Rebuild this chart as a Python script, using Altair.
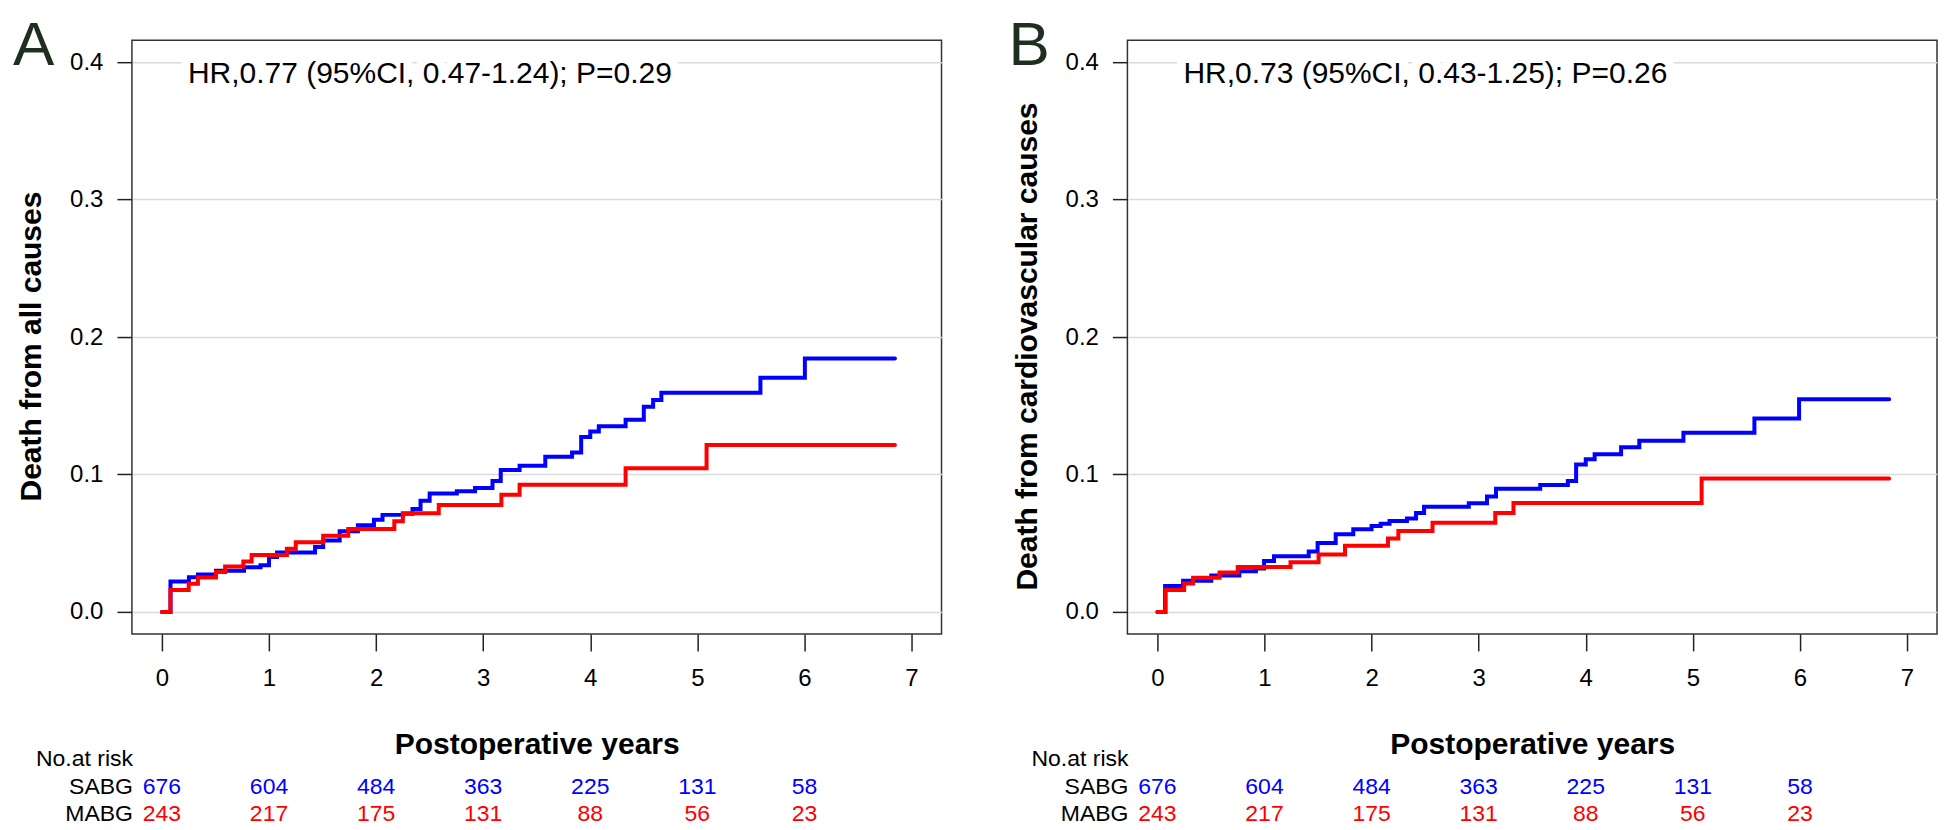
import altair as alt
import pandas as pd

# ---- data ----
# Panel A: death from all causes (cumulative incidence, step functions)
A_blue_t = [0, 0.08, 0.252, 0.336, 0.505, 0.767, 0.921, 1.0, 1.075, 1.43, 1.506, 1.66, 1.83, 1.98, 2.06,
            2.25, 2.34, 2.415, 2.50, 2.754, 2.924, 3.087, 3.164, 3.34, 3.58, 3.83, 3.915, 4.0, 4.08, 4.33,
            4.5, 4.587, 4.664, 5.589, 6.004, 6.845]
A_blue_v = [0, 0.0222, 0.0253, 0.0272, 0.0300, 0.0325, 0.0340, 0.0400, 0.0432, 0.0472, 0.0520, 0.0587, 0.0630,
            0.0670, 0.0706, 0.0715, 0.0749, 0.0809, 0.0861, 0.0878, 0.0902, 0.0952, 0.1033, 0.1064, 0.1129,
            0.1160, 0.1273, 0.1312, 0.1350, 0.1398, 0.1492, 0.1541, 0.1594, 0.1704, 0.1844, 0.1844]
A_red_t = [0, 0.08, 0.25, 0.336, 0.505, 0.59, 0.76, 0.838, 1.167, 1.25, 1.506, 1.74, 2.17, 2.25, 2.585,
           3.17, 3.34, 4.33, 5.086, 6.845]
A_red_v = [0, 0.0160, 0.0205, 0.0250, 0.0290, 0.0330, 0.0367, 0.0414, 0.0460, 0.0506, 0.0554, 0.0604,
           0.0659, 0.0718, 0.0778, 0.0852, 0.0926, 0.1045, 0.1215, 0.1215]

# Panel B: death from cardiovascular causes
B_blue_t = [0, 0.072, 0.24, 0.503, 0.765, 0.92, 0.996, 1.089, 1.413, 1.496, 1.665, 1.829, 2.0, 2.085, 2.168,
            2.33, 2.415, 2.49, 2.908, 3.078, 3.162, 3.575, 3.833, 3.91, 4.0, 4.083, 4.33, 4.5, 4.912, 5.575,
            5.992, 6.833]
B_blue_v = [0, 0.0188, 0.0226, 0.0265, 0.0296, 0.0315, 0.0370, 0.0405, 0.0439, 0.0501, 0.0565, 0.0601,
            0.0625, 0.0641, 0.0661, 0.0680, 0.0720, 0.0766, 0.0790, 0.0840, 0.0897, 0.0923, 0.0953, 0.1072,
            0.1110, 0.1148, 0.1198, 0.1245, 0.1303, 0.1407, 0.1548, 0.1548]
B_red_t = [0, 0.077, 0.25, 0.333, 0.58, 0.75, 1.243, 1.505, 1.752, 2.153, 2.25, 2.569, 3.155, 3.325, 5.082, 6.833]
B_red_v = [0, 0.016, 0.0207, 0.0248, 0.0286, 0.0327, 0.0362, 0.0417, 0.0482, 0.0534, 0.0589, 0.0649,
           0.0720, 0.0792, 0.0971, 0.0971]

# Number at risk table
risk_times = [0, 1, 2, 3, 4, 5, 6]
risk_sabg = [676, 604, 484, 363, 225, 131, 58]
risk_mabg = [243, 217, 175, 131, 88, 56, 23]

x_ticks = [0, 1, 2, 3, 4, 5, 6, 7]
y_ticks = [0.0, 0.1, 0.2, 0.3, 0.4]

panel_letters = ["A", "B"]
y_titles = ["Death from all causes", "Death from cardiovascular causes"]
hr_texts = ["HR,0.77 (95%CI, 0.47-1.24); P=0.29", "HR,0.73 (95%CI, 0.43-1.25); P=0.26"]
x_title = "Postoperative years"
group_names = ["SABG", "MABG"]

# ---- styling ----
W, H = 810, 594
XDOM = [-0.28, 7.28]
YDOM = [-0.016, 0.416]
FONT = "Liberation Sans"
BLUE = "#0000FF"
RED = "#FF0000"


def panel(letter, ytitle, hr, bt, bv, rt, rv):
    xs = alt.Scale(domain=XDOM, nice=False, zero=False)
    ys = alt.Scale(domain=YDOM, nice=False, zero=False)
    xaxis = alt.Axis(values=x_ticks, format="d", tickSize=17, tickWidth=1.5, tickColor="#222",
                     labelFontSize=24, labelColor="#000", labelPadding=16, domain=False, grid=False,
                     title=x_title, titleFontSize=30, titleFontWeight="bold", titleColor="#000",
                     titleY=111, titleBaseline="middle")
    yaxis = alt.Axis(values=y_ticks, format=".1f", tickSize=15, tickWidth=1.5, tickColor="#222",
                     labelFontSize=24, labelColor="#000", labelPadding=14, domain=False, grid=True,
                     gridColor="#dadada", gridWidth=1.5,
                     title=ytitle, titleFontSize=30, titleFontWeight="bold", titleColor="#000",
                     titleX=-100, titleY=H / 2 + 9, titleBaseline="middle", titleAlign="center",
                     titleAngle=270)

    blue_df = pd.DataFrame({"t": bt, "v": bv})
    red_df = pd.DataFrame({"t": rt, "v": rv})

    blue = alt.Chart(blue_df).mark_line(interpolate="step-after", color=BLUE, strokeWidth=4,
                                        strokeCap="round").encode(
        x=alt.X("t:Q", scale=xs, axis=xaxis),
        y=alt.Y("v:Q", scale=ys, axis=yaxis),
    )
    red = alt.Chart(red_df).mark_line(interpolate="step-after", color=RED, strokeWidth=4,
                                      strokeCap="round").encode(
        x=alt.X("t:Q", scale=xs, axis=xaxis),
        y=alt.Y("v:Q", scale=ys, axis=yaxis),
    )

    hr_df = pd.DataFrame({"s": [hr]})
    halo = alt.Chart(hr_df).mark_text(align="left", baseline="alphabetic", fontSize=30, fill="white",
                                      stroke="white", strokeWidth=18, strokeJoin="round").encode(
        x=alt.value(56), y=alt.value(43), text="s:N")
    hrt = alt.Chart(hr_df).mark_text(align="left", baseline="alphabetic", fontSize=30, color="#000").encode(
        x=alt.value(56), y=alt.value(43), text="s:N")

    let_df = pd.DataFrame({"s": [letter]})
    let = alt.Chart(let_df).mark_text(align="left", baseline="top", fontSize=62, color="#1e2f20").encode(
        x=alt.value(-119), y=alt.value(-24), text="s:N")

    risk_df = pd.DataFrame({"t": risk_times, "sabg": risk_sabg, "mabg": risk_mabg})
    r1 = alt.Chart(risk_df).mark_text(align="center", baseline="middle", fontSize=23, color=BLUE).encode(
        x=alt.X("t:Q", scale=xs, axis=xaxis), y=alt.value(H + 153), text=alt.Text("sabg:Q", format="d"))
    r2 = alt.Chart(risk_df).mark_text(align="center", baseline="middle", fontSize=23, color=RED).encode(
        x=alt.X("t:Q", scale=xs, axis=xaxis), y=alt.value(H + 180), text=alt.Text("mabg:Q", format="d"))

    head_df = pd.DataFrame({"s": ["No.at risk"]})
    head = alt.Chart(head_df).mark_text(align="left", baseline="middle", fontSize=23, color="#000").encode(
        x=alt.value(-96), y=alt.value(H + 125), text="s:N")
    g1 = alt.Chart(pd.DataFrame({"s": [group_names[0]]})).mark_text(
        align="right", baseline="middle", fontSize=23, color="#000").encode(
        x=alt.value(1), y=alt.value(H + 153), text="s:N")
    g2 = alt.Chart(pd.DataFrame({"s": [group_names[1]]})).mark_text(
        align="right", baseline="middle", fontSize=23, color="#000").encode(
        x=alt.value(1), y=alt.value(H + 180), text="s:N")

    return alt.layer(blue, red, halo, hrt, let, r1, r2, head, g1, g2).properties(width=W, height=H)


pa = panel(panel_letters[0], y_titles[0], hr_texts[0], A_blue_t, A_blue_v, A_red_t, A_red_v)
pb = panel(panel_letters[1], y_titles[1], hr_texts[1], B_blue_t, B_blue_v, B_red_t, B_red_v)

chart = alt.hconcat(pa, pb, spacing=186, bounds="flush").properties(
    padding={"left": 4, "top": 6, "right": 0, "bottom": 0}
).configure(
    font=FONT, background="white"
).configure_view(stroke="#333", strokeWidth=1.5).configure_axis(labelFont=FONT, titleFont=FONT)

chart.save("out.html", embed_options={"renderer": "svg", "actions": False})
